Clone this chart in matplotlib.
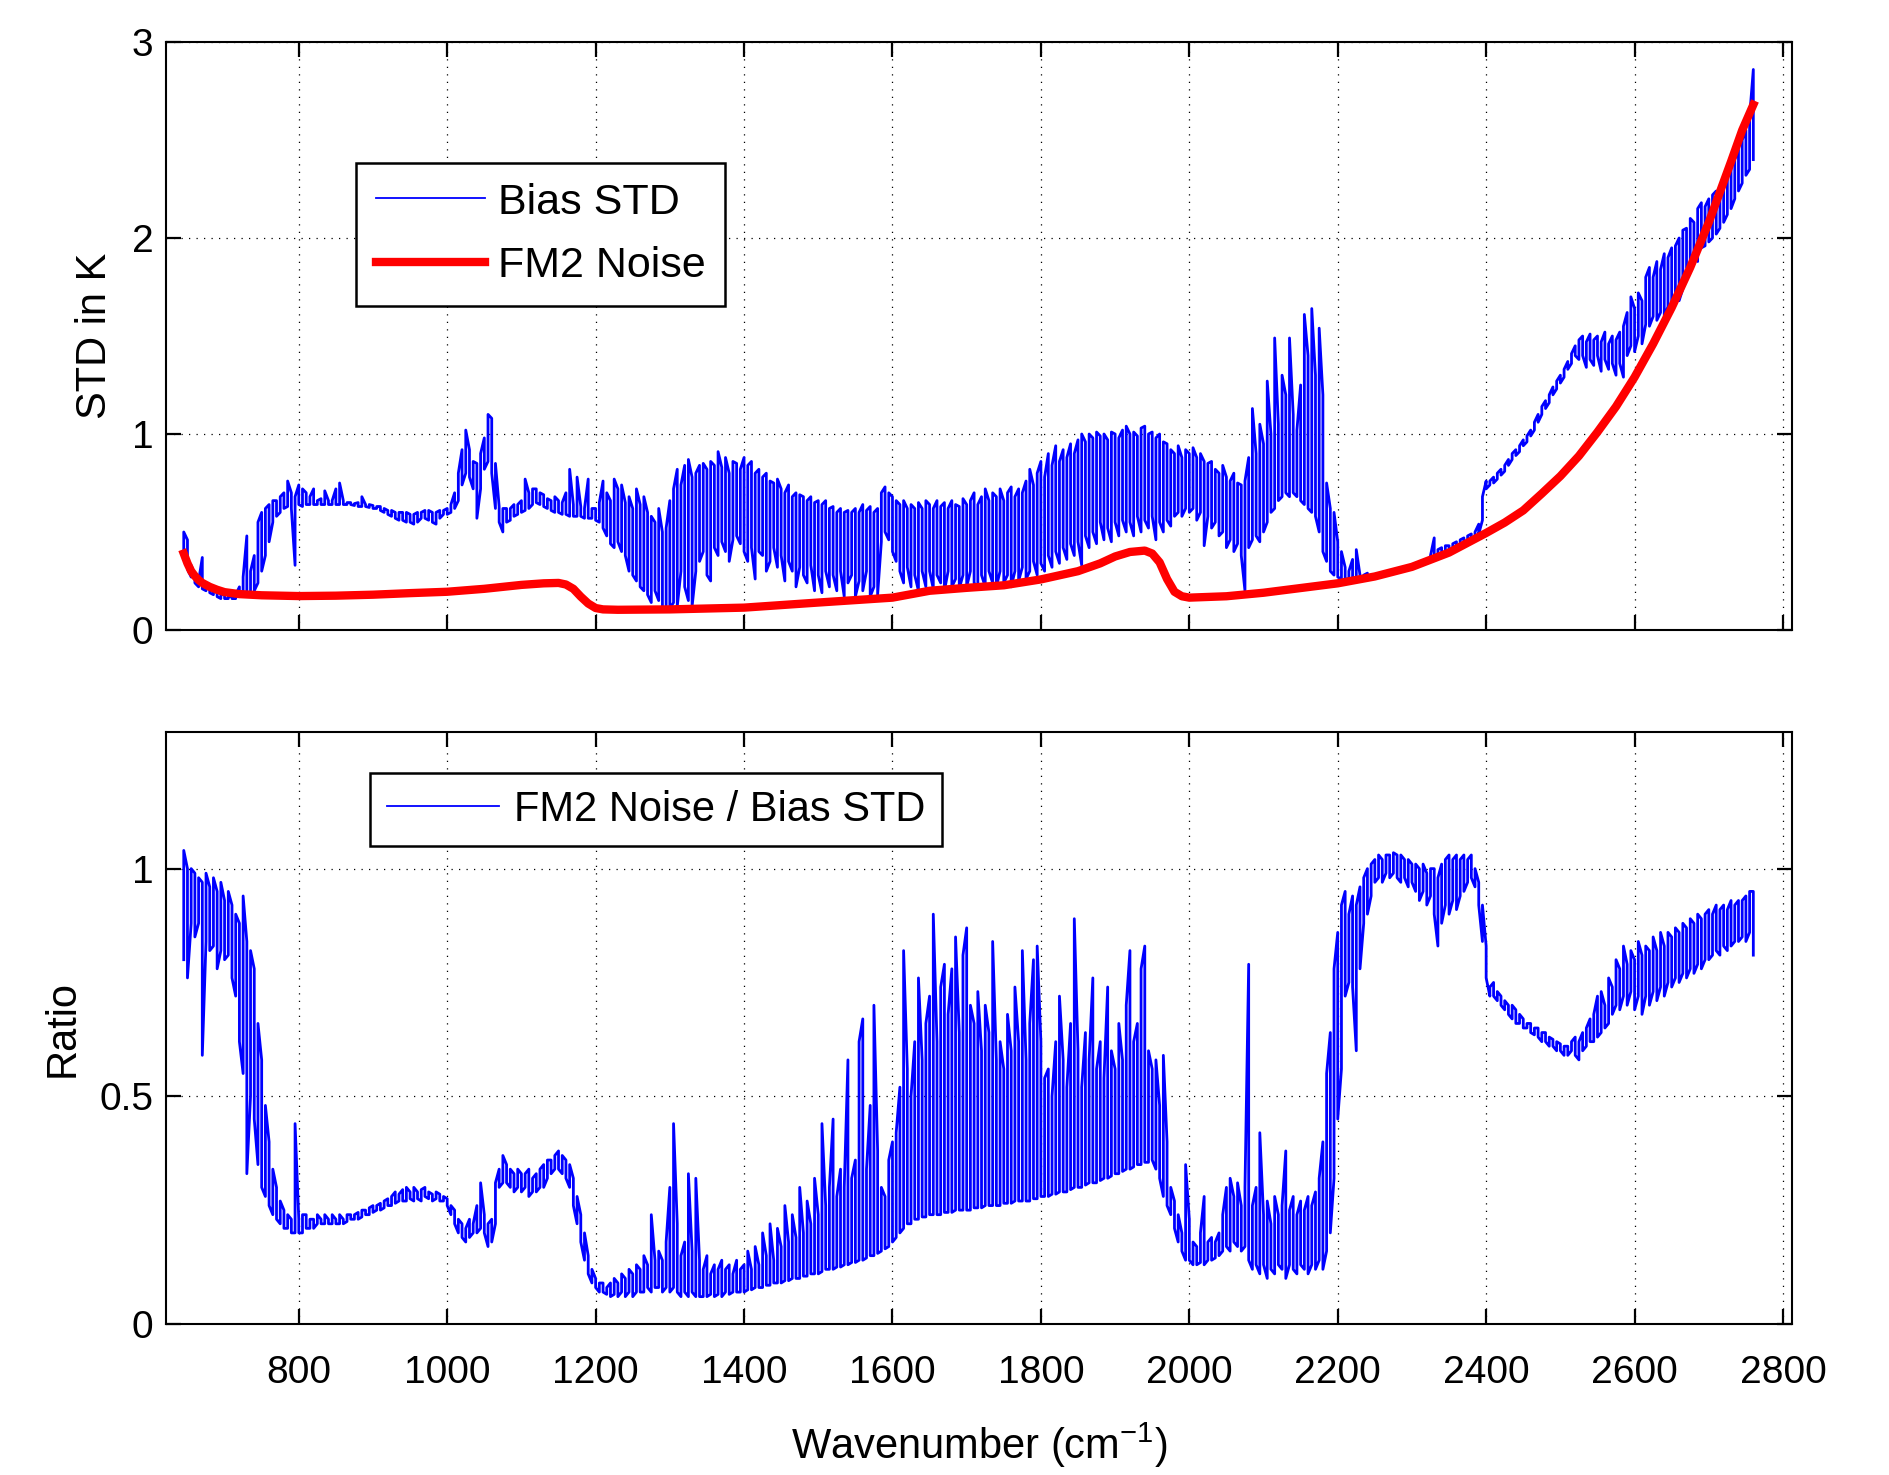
import numpy as np
import matplotlib
matplotlib.use('Agg')
import matplotlib.pyplot as plt

plt.rcParams['font.family'] = ['Liberation Sans', 'DejaVu Sans']
plt.rcParams['mathtext.fontset'] = 'custom'
plt.rcParams['mathtext.rm'] = 'Liberation Sans'
plt.rcParams['mathtext.default'] = 'regular'

# channel bins, 5 cm-1 wide, 645 .. 2760 cm-1
wn = np.arange(645, 2761, 5)

# bias STD (K): min / max inside each bin
std_lo = [
    0.36, 0.31, 0.27, 0.24, 0.22, 0.21, 0.20, 0.19, 0.18, 0.17, 0.16, 0.16, 0.16, 0.16, 0.16, 0.17, 0.18, 0.18, 0.19, 0.20,  # 645
    0.24, 0.30, 0.38, 0.45, 0.55, 0.58, 0.60, 0.62, 0.63, 0.62, 0.33, 0.64, 0.63, 0.64, 0.64, 0.64, 0.64, 0.64, 0.64, 0.64,  # 745
    0.64, 0.64, 0.64, 0.64, 0.64, 0.64, 0.635, 0.63, 0.63, 0.63, 0.625, 0.62, 0.62, 0.61, 0.60, 0.59, 0.58, 0.57, 0.56, 0.56,  # 845
    0.55, 0.55, 0.54, 0.55, 0.57, 0.57, 0.56, 0.55, 0.54, 0.57, 0.59, 0.59, 0.60, 0.62, 0.66, 0.74, 0.80, 0.78, 0.72, 0.57,  # 945
    0.72, 0.82, 0.86, 0.80, 0.62, 0.55, 0.50, 0.55, 0.56, 0.58, 0.59, 0.60, 0.61, 0.62, 0.64, 0.65, 0.64, 0.63, 0.62, 0.61,  # 1045
    0.60, 0.60, 0.59, 0.59, 0.58, 0.58, 0.58, 0.58, 0.57, 0.57, 0.57, 0.56, 0.55, 0.52, 0.48, 0.44, 0.42, 0.45, 0.40, 0.38,  # 1145
    0.30, 0.28, 0.25, 0.22, 0.20, 0.18, 0.14, 0.20, 0.15, 0.12, 0.10, 0.11, 0.14, 0.12, 0.30, 0.22, 0.15, 0.12, 0.30, 0.35,  # 1245
    0.40, 0.28, 0.25, 0.42, 0.38, 0.45, 0.40, 0.35, 0.46, 0.48, 0.44, 0.40, 0.35, 0.42, 0.26, 0.40, 0.38, 0.30, 0.35, 0.42,  # 1345
    0.32, 0.38, 0.25, 0.35, 0.30, 0.22, 0.32, 0.28, 0.24, 0.33, 0.20, 0.28, 0.19, 0.30, 0.22, 0.28, 0.20, 0.30, 0.17, 0.24,  # 1445
    0.28, 0.17, 0.25, 0.20, 0.30, 0.17, 0.22, 0.18, 0.45, 0.50, 0.46, 0.40, 0.35, 0.30, 0.24, 0.32, 0.22, 0.28, 0.20, 0.30,  # 1545
    0.22, 0.30, 0.21, 0.28, 0.24, 0.20, 0.30, 0.22, 0.26, 0.21, 0.28, 0.22, 0.30, 0.24, 0.22, 0.28, 0.22, 0.30, 0.24, 0.22,  # 1645
    0.30, 0.24, 0.28, 0.22, 0.30, 0.25, 0.32, 0.26, 0.30, 0.35, 0.28, 0.34, 0.30, 0.38, 0.32, 0.40, 0.34, 0.42, 0.36, 0.44,  # 1745
    0.38, 0.45, 0.33, 0.48, 0.42, 0.50, 0.44, 0.55, 0.46, 0.52, 0.45, 0.55, 0.48, 0.56, 0.50, 0.55, 0.48, 0.58, 0.50, 0.56,  # 1845
    0.52, 0.58, 0.46, 0.55, 0.50, 0.56, 0.53, 0.58, 0.60, 0.58, 0.62, 0.60, 0.62, 0.56, 0.60, 0.43, 0.58, 0.52, 0.55, 0.48,  # 1945
    0.50, 0.42, 0.46, 0.40, 0.44, 0.38, 0.20, 0.42, 0.46, 0.48, 0.45, 0.50, 0.55, 0.60, 0.62, 0.66, 0.68, 0.70, 0.68, 0.70,  # 2045
    0.68, 0.66, 0.64, 0.62, 0.60, 0.58, 0.50, 0.40, 0.35, 0.30, 0.28, 0.27, 0.26, 0.26, 0.26, 0.26, 0.26, 0.26, 0.27, 0.27,  # 2145
    0.27, 0.27, 0.27, 0.28, 0.28, 0.29, 0.29, 0.30, 0.30, 0.31, 0.31, 0.32, 0.32, 0.33, 0.34, 0.35, 0.36, 0.37, 0.38, 0.38,  # 2245
    0.39, 0.40, 0.41, 0.42, 0.43, 0.44, 0.45, 0.46, 0.47, 0.49, 0.56, 0.72, 0.74, 0.75, 0.77, 0.79, 0.81, 0.84, 0.87, 0.89,  # 2345
    0.91, 0.94, 0.96, 0.99, 1.02, 1.06, 1.10, 1.13, 1.16, 1.20, 1.23, 1.26, 1.29, 1.33, 1.36, 1.40, 1.38, 1.40, 1.34, 1.38,  # 2445
    1.35, 1.40, 1.32, 1.38, 1.33, 1.36, 1.30, 1.36, 1.29, 1.40, 1.45, 1.42, 1.50, 1.46, 1.56, 1.55, 1.60, 1.58, 1.62, 1.60,  # 2545
    1.65, 1.62, 1.70, 1.68, 1.74, 1.85, 1.84, 1.90, 1.88, 1.95, 1.96, 1.98, 2.00, 2.02, 2.05, 2.08, 2.12, 2.15, 2.20, 2.24,  # 2645
    2.28, 2.32, 2.35, 2.40,  # 2745
]
std_hi = [
    0.50, 0.46, 0.33, 0.28, 0.25, 0.37, 0.23, 0.21, 0.20, 0.19, 0.18, 0.18, 0.17, 0.17, 0.18, 0.22, 0.27, 0.48, 0.30, 0.38,
    0.55, 0.60, 0.62, 0.64, 0.66, 0.66, 0.68, 0.70, 0.76, 0.70, 0.68, 0.74, 0.72, 0.70, 0.68, 0.72, 0.66, 0.67, 0.71, 0.66,
    0.66, 0.72, 0.75, 0.66, 0.65, 0.65, 0.645, 0.65, 0.68, 0.64, 0.64, 0.635, 0.63, 0.63, 0.62, 0.61, 0.61, 0.60, 0.60, 0.60,
    0.60, 0.59, 0.59, 0.60, 0.60, 0.61, 0.61, 0.60, 0.60, 0.61, 0.61, 0.62, 0.64, 0.70, 0.80, 0.92, 1.02, 0.92, 0.86, 0.85,
    0.90, 0.98, 1.10, 1.08, 0.85, 0.63, 0.62, 0.62, 0.62, 0.64, 0.64, 0.66, 0.77, 0.70, 0.72, 0.72, 0.70, 0.69, 0.67, 0.66,
    0.68, 0.66, 0.65, 0.70, 0.82, 0.64, 0.78, 0.63, 0.62, 0.77, 0.62, 0.62, 0.65, 0.76, 0.70, 0.66, 0.77, 0.72, 0.74, 0.65,
    0.68, 0.62, 0.72, 0.64, 0.68, 0.60, 0.58, 0.55, 0.62, 0.50, 0.52, 0.66, 0.72, 0.82, 0.74, 0.84, 0.87, 0.78, 0.80, 0.84,
    0.85, 0.82, 0.86, 0.84, 0.91, 0.83, 0.88, 0.80, 0.86, 0.85, 0.82, 0.88, 0.84, 0.86, 0.80, 0.82, 0.78, 0.80, 0.76, 0.75,
    0.77, 0.72, 0.70, 0.74, 0.68, 0.70, 0.69, 0.68, 0.66, 0.68, 0.65, 0.66, 0.64, 0.66, 0.62, 0.63, 0.60, 0.62, 0.60, 0.61,
    0.60, 0.62, 0.60, 0.64, 0.61, 0.63, 0.60, 0.62, 0.70, 0.73, 0.70, 0.68, 0.66, 0.64, 0.66, 0.62, 0.64, 0.62, 0.65, 0.62,
    0.66, 0.64, 0.62, 0.66, 0.63, 0.65, 0.62, 0.66, 0.64, 0.63, 0.67, 0.64, 0.66, 0.70, 0.64, 0.68, 0.72, 0.66, 0.70, 0.68,
    0.72, 0.66, 0.70, 0.73, 0.68, 0.72, 0.70, 0.76, 0.82, 0.74, 0.80, 0.86, 0.78, 0.90, 0.84, 0.94, 0.86, 0.92, 0.88, 0.95,
    0.90, 0.97, 1.00, 0.96, 1.00, 0.98, 1.01, 0.99, 1.00, 0.97, 1.01, 1.00, 0.98, 1.02, 1.04, 1.00, 1.01, 0.99, 1.03, 1.04,
    1.00, 1.01, 0.98, 1.00, 0.96, 0.95, 0.92, 0.90, 0.94, 0.88, 0.92, 0.90, 0.93, 0.88, 0.90, 0.86, 0.85, 0.86, 0.82, 0.80,
    0.84, 0.78, 0.76, 0.80, 0.75, 0.74, 0.76, 0.88, 1.13, 0.90, 1.05, 0.95, 1.27, 1.00, 1.49, 1.05, 1.30, 1.20, 1.49, 1.10,
    1.02, 1.25, 1.61, 1.40, 1.64, 1.30, 1.54, 1.20, 0.75, 0.62, 0.60, 0.45, 0.40, 0.32, 0.30, 0.36, 0.41, 0.28, 0.28, 0.29,
    0.28, 0.28, 0.28, 0.29, 0.29, 0.30, 0.30, 0.31, 0.31, 0.32, 0.32, 0.33, 0.34, 0.34, 0.35, 0.36, 0.38, 0.47, 0.41, 0.42,
    0.43, 0.43, 0.44, 0.45, 0.46, 0.47, 0.48, 0.49, 0.50, 0.54, 0.68, 0.76, 0.76, 0.78, 0.80, 0.82, 0.84, 0.87, 0.90, 0.92,
    0.94, 0.97, 0.99, 1.02, 1.06, 1.10, 1.14, 1.17, 1.20, 1.24, 1.27, 1.30, 1.33, 1.37, 1.41, 1.45, 1.48, 1.50, 1.47, 1.51,
    1.48, 1.50, 1.47, 1.52, 1.46, 1.50, 1.48, 1.52, 1.55, 1.62, 1.70, 1.64, 1.72, 1.68, 1.80, 1.85, 1.80, 1.88, 1.84, 1.92,
    1.90, 1.95, 1.96, 2.00, 2.04, 2.05, 2.10, 2.08, 2.15, 2.18, 2.16, 2.20, 2.22, 2.24, 2.26, 2.28, 2.32, 2.36, 2.40, 2.45,
    2.50, 2.55, 2.62, 2.86,
]

# FM2 instrument noise (K)
noise_wn = [645, 650, 655, 660, 665, 670, 680, 690, 700, 720, 750, 800, 850, 900, 950, 1000,
            1050, 1100, 1130, 1150, 1160, 1170, 1180, 1190, 1200, 1210, 1230, 1300, 1400, 1500,
            1600, 1650, 1700, 1750, 1800, 1850, 1880, 1900, 1920, 1940, 1950, 1960, 1970, 1980,
            1990, 2000, 2050, 2100, 2150, 2200, 2250, 2300, 2350, 2400, 2425, 2450, 2475, 2500,
            2525, 2550, 2575, 2600, 2625, 2650, 2675, 2700, 2730, 2745, 2760]
noise = [0.39, 0.34, 0.30, 0.275, 0.255, 0.24, 0.22, 0.205, 0.193, 0.183, 0.177, 0.173, 0.175, 0.18, 0.188, 0.195,
         0.21, 0.23, 0.238, 0.24, 0.232, 0.21, 0.17, 0.135, 0.112, 0.105, 0.103, 0.105, 0.114, 0.14,
         0.165, 0.20, 0.215, 0.228, 0.258, 0.30, 0.34, 0.375, 0.398, 0.405, 0.39, 0.345, 0.26, 0.195,
         0.172, 0.165, 0.172, 0.19, 0.214, 0.238, 0.273, 0.322, 0.395, 0.495, 0.548, 0.61, 0.696, 0.785,
         0.888, 1.01, 1.14, 1.29, 1.46, 1.645, 1.85, 2.08, 2.39, 2.55, 2.68]

# FM2 noise / bias STD: min / max inside each bin
ratio_lo = [
    0.80, 0.76, 0.88, 0.85, 0.88, 0.59, 0.84, 0.82, 0.83, 0.78, 0.82, 0.80, 0.81, 0.76, 0.72, 0.62, 0.55, 0.33, 0.50, 0.45,  # 645
    0.35, 0.30, 0.28, 0.26, 0.24, 0.23, 0.22, 0.21, 0.21, 0.20, 0.20, 0.20, 0.20, 0.21, 0.21, 0.21, 0.22, 0.22, 0.22, 0.22,  # 745
    0.22, 0.22, 0.22, 0.22, 0.225, 0.23, 0.23, 0.23, 0.235, 0.24, 0.24, 0.245, 0.25, 0.25, 0.255, 0.26, 0.26, 0.265, 0.27, 0.27,  # 845
    0.27, 0.275, 0.27, 0.275, 0.27, 0.28, 0.275, 0.27, 0.275, 0.27, 0.27, 0.26, 0.24, 0.22, 0.20, 0.19, 0.18, 0.19, 0.20, 0.20,  # 945
    0.21, 0.20, 0.17, 0.18, 0.22, 0.30, 0.31, 0.31, 0.30, 0.29, 0.30, 0.29, 0.30, 0.28, 0.29, 0.29, 0.30, 0.30, 0.32, 0.33,  # 1045
    0.34, 0.34, 0.33, 0.32, 0.30, 0.26, 0.22, 0.18, 0.14, 0.11, 0.09, 0.08, 0.07, 0.07, 0.065, 0.06, 0.065, 0.06, 0.07, 0.06,  # 1145
    0.07, 0.06, 0.07, 0.07, 0.07, 0.08, 0.07, 0.08, 0.08, 0.07, 0.08, 0.07, 0.08, 0.07, 0.06, 0.07, 0.06, 0.07, 0.06, 0.06,  # 1245
    0.06, 0.06, 0.065, 0.06, 0.065, 0.06, 0.07, 0.065, 0.07, 0.07, 0.07, 0.07, 0.075, 0.075, 0.08, 0.08, 0.08, 0.085, 0.085, 0.09,  # 1345
    0.09, 0.09, 0.095, 0.095, 0.10, 0.10, 0.10, 0.105, 0.105, 0.11, 0.11, 0.11, 0.115, 0.12, 0.12, 0.12, 0.125, 0.125, 0.13, 0.13,  # 1445
    0.135, 0.135, 0.14, 0.14, 0.145, 0.15, 0.15, 0.155, 0.16, 0.165, 0.17, 0.18, 0.19, 0.20, 0.21, 0.22, 0.22, 0.23, 0.23, 0.235,  # 1545
    0.235, 0.24, 0.24, 0.24, 0.24, 0.245, 0.245, 0.245, 0.25, 0.25, 0.25, 0.25, 0.25, 0.255, 0.255, 0.255, 0.26, 0.26, 0.26, 0.26,  # 1645
    0.26, 0.265, 0.265, 0.265, 0.27, 0.27, 0.27, 0.27, 0.27, 0.275, 0.275, 0.28, 0.28, 0.28, 0.285, 0.285, 0.29, 0.29, 0.29, 0.295,  # 1745
    0.30, 0.30, 0.30, 0.305, 0.31, 0.31, 0.31, 0.315, 0.32, 0.32, 0.325, 0.33, 0.33, 0.335, 0.34, 0.34, 0.345, 0.35, 0.35, 0.355,  # 1845
    0.355, 0.36, 0.34, 0.32, 0.28, 0.26, 0.24, 0.21, 0.18, 0.16, 0.14, 0.14, 0.13, 0.13, 0.135, 0.13, 0.14, 0.14, 0.145, 0.15,  # 1945
    0.16, 0.17, 0.16, 0.18, 0.17, 0.16, 0.17, 0.14, 0.12, 0.13, 0.11, 0.13, 0.10, 0.12, 0.11, 0.13, 0.12, 0.10, 0.13, 0.12,  # 2045
    0.11, 0.13, 0.12, 0.11, 0.13, 0.12, 0.14, 0.12, 0.16, 0.20, 0.32, 0.45, 0.56, 0.72, 0.75, 0.74, 0.60, 0.78, 0.88, 0.90,  # 2145
    0.94, 0.97, 0.98, 0.97, 0.99, 0.98, 0.99, 0.98, 0.97, 0.98, 0.96, 0.97, 0.95, 0.93, 0.95, 0.92, 0.94, 0.90, 0.83, 0.88,  # 2245
    0.92, 0.90, 0.93, 0.91, 0.94, 0.95, 0.97, 0.98, 0.96, 0.92, 0.84, 0.76, 0.72, 0.72, 0.71, 0.70, 0.69, 0.68, 0.67, 0.66,  # 2345
    0.66, 0.65, 0.65, 0.64, 0.635, 0.63, 0.62, 0.62, 0.61, 0.61, 0.60, 0.60, 0.59, 0.59, 0.60, 0.59, 0.58, 0.60, 0.61, 0.62,  # 2445
    0.62, 0.63, 0.64, 0.65, 0.66, 0.68, 0.70, 0.69, 0.72, 0.70, 0.73, 0.69, 0.72, 0.68, 0.72, 0.70, 0.73, 0.71, 0.74, 0.72,  # 2545
    0.75, 0.74, 0.76, 0.75, 0.77, 0.76, 0.78, 0.77, 0.79, 0.78, 0.80, 0.80, 0.81, 0.82, 0.81, 0.83, 0.82, 0.83, 0.84, 0.84,  # 2645
    0.85, 0.84, 0.86, 0.81,  # 2745
]
ratio_hi = [
    1.04, 1.00, 1.00, 0.99, 0.98, 0.97, 0.99, 0.96, 0.98, 0.95, 0.97, 0.93, 0.95, 0.92, 0.90, 0.88, 0.94, 0.84, 0.82, 0.78,
    0.66, 0.58, 0.48, 0.40, 0.34, 0.30, 0.27, 0.25, 0.24, 0.23, 0.44, 0.23, 0.24, 0.24, 0.23, 0.23, 0.24, 0.23, 0.24, 0.23,
    0.24, 0.23, 0.24, 0.23, 0.24, 0.24, 0.24, 0.245, 0.25, 0.25, 0.255, 0.26, 0.26, 0.265, 0.27, 0.275, 0.28, 0.29, 0.285, 0.295,
    0.30, 0.29, 0.30, 0.29, 0.295, 0.30, 0.29, 0.285, 0.29, 0.285, 0.28, 0.275, 0.26, 0.25, 0.23, 0.22, 0.21, 0.23, 0.22, 0.26,
    0.31, 0.24, 0.22, 0.23, 0.31, 0.34, 0.37, 0.35, 0.34, 0.33, 0.34, 0.33, 0.33, 0.34, 0.32, 0.33, 0.34, 0.35, 0.36, 0.36,
    0.37, 0.38, 0.37, 0.36, 0.35, 0.32, 0.28, 0.24, 0.20, 0.15, 0.12, 0.10, 0.09, 0.09, 0.08, 0.09, 0.10, 0.09, 0.11, 0.10,
    0.12, 0.11, 0.13, 0.12, 0.15, 0.13, 0.24, 0.14, 0.16, 0.14, 0.18, 0.30, 0.44, 0.22, 0.15, 0.18, 0.33, 0.16, 0.32, 0.14,
    0.12, 0.15, 0.11, 0.13, 0.12, 0.14, 0.12, 0.13, 0.11, 0.14, 0.12, 0.13, 0.16, 0.12, 0.17, 0.13, 0.20, 0.15, 0.22, 0.14,
    0.21, 0.17, 0.26, 0.18, 0.24, 0.19, 0.30, 0.20, 0.27, 0.22, 0.32, 0.24, 0.44, 0.26, 0.30, 0.45, 0.28, 0.34, 0.30, 0.58,
    0.32, 0.36, 0.62, 0.67, 0.34, 0.48, 0.70, 0.38, 0.30, 0.28, 0.36, 0.40, 0.42, 0.52, 0.82, 0.56, 0.50, 0.62, 0.76, 0.58,
    0.66, 0.72, 0.90, 0.62, 0.74, 0.79, 0.68, 0.78, 0.85, 0.64, 0.81, 0.87, 0.70, 0.66, 0.73, 0.60, 0.70, 0.64, 0.84, 0.58,
    0.62, 0.56, 0.68, 0.60, 0.74, 0.62, 0.82, 0.58, 0.66, 0.80, 0.83, 0.62, 0.54, 0.56, 0.50, 0.62, 0.72, 0.58, 0.52, 0.66,
    0.89, 0.60, 0.52, 0.64, 0.58, 0.76, 0.56, 0.62, 0.54, 0.74, 0.60, 0.56, 0.66, 0.58, 0.70, 0.82, 0.62, 0.66, 0.78, 0.83,
    0.60, 0.56, 0.58, 0.48, 0.59, 0.40, 0.30, 0.27, 0.24, 0.20, 0.35, 0.23, 0.18, 0.17, 0.20, 0.28, 0.18, 0.19, 0.18, 0.20,
    0.24, 0.30, 0.32, 0.28, 0.31, 0.26, 0.30, 0.79, 0.26, 0.30, 0.42, 0.24, 0.27, 0.22, 0.28, 0.24, 0.26, 0.38, 0.25, 0.28,
    0.24, 0.27, 0.25, 0.28, 0.26, 0.29, 0.32, 0.40, 0.55, 0.64, 0.78, 0.86, 0.92, 0.95, 0.90, 0.94, 0.92, 0.96, 0.98, 1.00,
    1.01, 1.02, 1.03, 1.02, 1.03, 1.03, 1.035, 1.03, 1.03, 1.02, 1.02, 1.01, 1.01, 1.00, 1.01, 0.99, 1.00, 1.00, 0.98, 1.01,
    1.02, 1.03, 1.02, 1.03, 1.02, 1.03, 1.02, 1.03, 1.00, 0.97, 0.92, 0.83, 0.74, 0.75, 0.73, 0.72, 0.71, 0.70, 0.70, 0.69,
    0.68, 0.67, 0.66, 0.66, 0.65, 0.65, 0.64, 0.64, 0.63, 0.625, 0.62, 0.615, 0.61, 0.61, 0.62, 0.63, 0.62, 0.64, 0.65, 0.67,
    0.68, 0.72, 0.73, 0.70, 0.76, 0.74, 0.80, 0.78, 0.83, 0.79, 0.82, 0.80, 0.84, 0.81, 0.83, 0.82, 0.85, 0.82, 0.86, 0.83,
    0.86, 0.85, 0.87, 0.86, 0.88, 0.87, 0.89, 0.88, 0.90, 0.89, 0.90, 0.91, 0.90, 0.92, 0.91, 0.92, 0.91, 0.93, 0.92, 0.93,
    0.93, 0.94, 0.95, 0.95,
]

xticks = [800, 1000, 1200, 1400, 1600, 1800, 2000, 2200, 2400, 2600, 2800]


def minmax_trace(x, lo, hi):
    # walk each bin lo->hi, the next one hi->lo, so the line keeps the spikes
    lo = np.asarray(lo, dtype=float)
    hi = np.asarray(hi, dtype=float)
    up = np.arange(len(x)) % 2 == 0
    xs = np.repeat(x, 2)
    ys = np.empty(2 * len(x))
    ys[0::2] = np.where(up, lo, hi)
    ys[1::2] = np.where(up, hi, lo)
    return xs, ys


def style_axes(ax, ylim, yticks):
    ax.set_xlim(621, 2812)
    ax.set_ylim(*ylim)
    ax.set_xticks(xticks)
    ax.set_yticks(yticks)
    ax.grid(True, color='black', linestyle=(0, (1, 5)), linewidth=0.9)
    ax.set_axisbelow(True)
    ax.tick_params(direction='in', top=True, right=True, length=11, width=1.6,
                   labelsize=28)
    ax.tick_params(axis='x', pad=22)
    ax.tick_params(axis='y', pad=9)
    for s in ax.spines.values():
        s.set_linewidth(1.5)


fig = plt.figure(figsize=(18.9, 14.75), dpi=100)
ax1 = fig.add_axes([0.0878, 0.5729, 0.8603, 0.3986])
ax2 = fig.add_axes([0.0878, 0.1024, 0.8603, 0.4013])

x, y = minmax_trace(wn, std_lo, std_hi)
ax1.plot(x, y, color='blue', lw=2.0, label='Bias STD')
ax1.plot(noise_wn, noise, color='red', lw=6.0, label='FM2 Noise')
style_axes(ax1, (0, 3), [0, 1, 2, 3])
ax1.set_xticklabels([])
ax1.set_ylabel('STD in K', fontsize=30, labelpad=12)
leg = ax1.legend(loc='upper left', bbox_to_anchor=(0.117, 0.794), fontsize=31,
                 fancybox=False, framealpha=1, edgecolor='black', borderpad=0.45,
                 handlelength=2.55, handletextpad=0.3, labelspacing=0.55,
                 borderaxespad=0)
leg.get_frame().set_linewidth(1.8)
leg.legend_handles[0].set_linewidth(1.3)

x, y = minmax_trace(wn, ratio_lo, ratio_hi)
ax2.plot(x, y, color='blue', lw=2.0, label='FM2 Noise / Bias STD')
style_axes(ax2, (0, 1.3), [0, 0.5, 1])
ax2.set_yticklabels(['0', '0.5', '1'])
ax2.set_ylabel('Ratio', fontsize=30, labelpad=12)
ax2.set_xlabel('Wavenumber (cm$^{-1}$)', fontsize=30, labelpad=22)
leg = ax2.legend(loc='upper left', bbox_to_anchor=(0.1255, 0.9307), fontsize=30,
                 fancybox=False, framealpha=1, edgecolor='black', borderpad=0.4,
                 handlelength=2.7, handletextpad=0.35, borderaxespad=0)
leg.get_frame().set_linewidth(1.8)
leg.legend_handles[0].set_linewidth(1.3)

fig.savefig('out.png', dpi=100)
